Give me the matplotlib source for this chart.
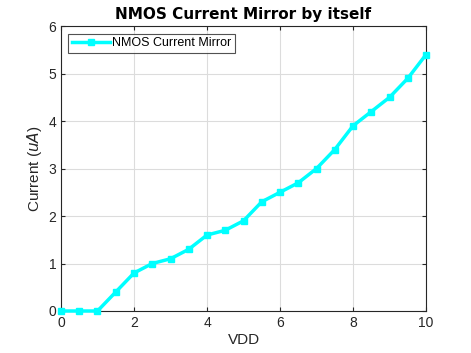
import matplotlib
matplotlib.use("Agg")
import matplotlib.pyplot as plt

plt.rcParams['font.family'] = ['Liberation Sans', 'DejaVu Sans']

vdd = [0, 0.5, 1, 1.5, 2, 2.5, 3, 3.5, 4, 4.5, 5, 5.5, 6, 6.5, 7, 7.5, 8, 8.5, 9, 9.5, 10]
current = [0, 0, 0, 0.4, 0.8, 1.0, 1.1, 1.3, 1.6, 1.7, 1.9, 2.3, 2.5, 2.7, 3.0, 3.4, 3.9, 4.2, 4.5, 4.9, 5.4]

fig = plt.figure(figsize=(4.71, 3.53), dpi=100)
ax = fig.add_axes([0.1295, 0.119, 0.775, 0.807])

ax.plot(vdd, current, color='cyan', linewidth=2.5, marker='s', markersize=5,
        label='NMOS Current Mirror', clip_on=False, zorder=3)

ax.set_xlim(0, 10)
ax.set_ylim(0, 6)
ax.set_xticks([0, 2, 4, 6, 8, 10])
ax.set_yticks([0, 1, 2, 3, 4, 5, 6])
ax.grid(True, color='#dcdcdc', linewidth=0.8)
ax.set_axisbelow(True)
ax.tick_params(direction='in', length=3, labelsize=10, colors='#262626',
               top=True, right=True)
for s in ax.spines.values():
    s.set_color('#262626')
    s.set_linewidth(0.8)

ax.set_xlabel('VDD', fontsize=11, color='#262626', labelpad=2)
ax.set_ylabel('Current ($uA$)', fontsize=11, color='#262626', labelpad=3)
ax.set_title('NMOS Current Mirror by itself', fontsize=11, fontweight='bold',
             family=['DejaVu Sans'], pad=5)

leg = ax.legend(loc='upper left', fontsize=9, fancybox=False, edgecolor='#262626',
                borderpad=0.3, handlelength=3, handletextpad=0.15, borderaxespad=0.6)
leg.get_frame().set_linewidth(0.8)

plt.savefig("out.png", dpi=100)
